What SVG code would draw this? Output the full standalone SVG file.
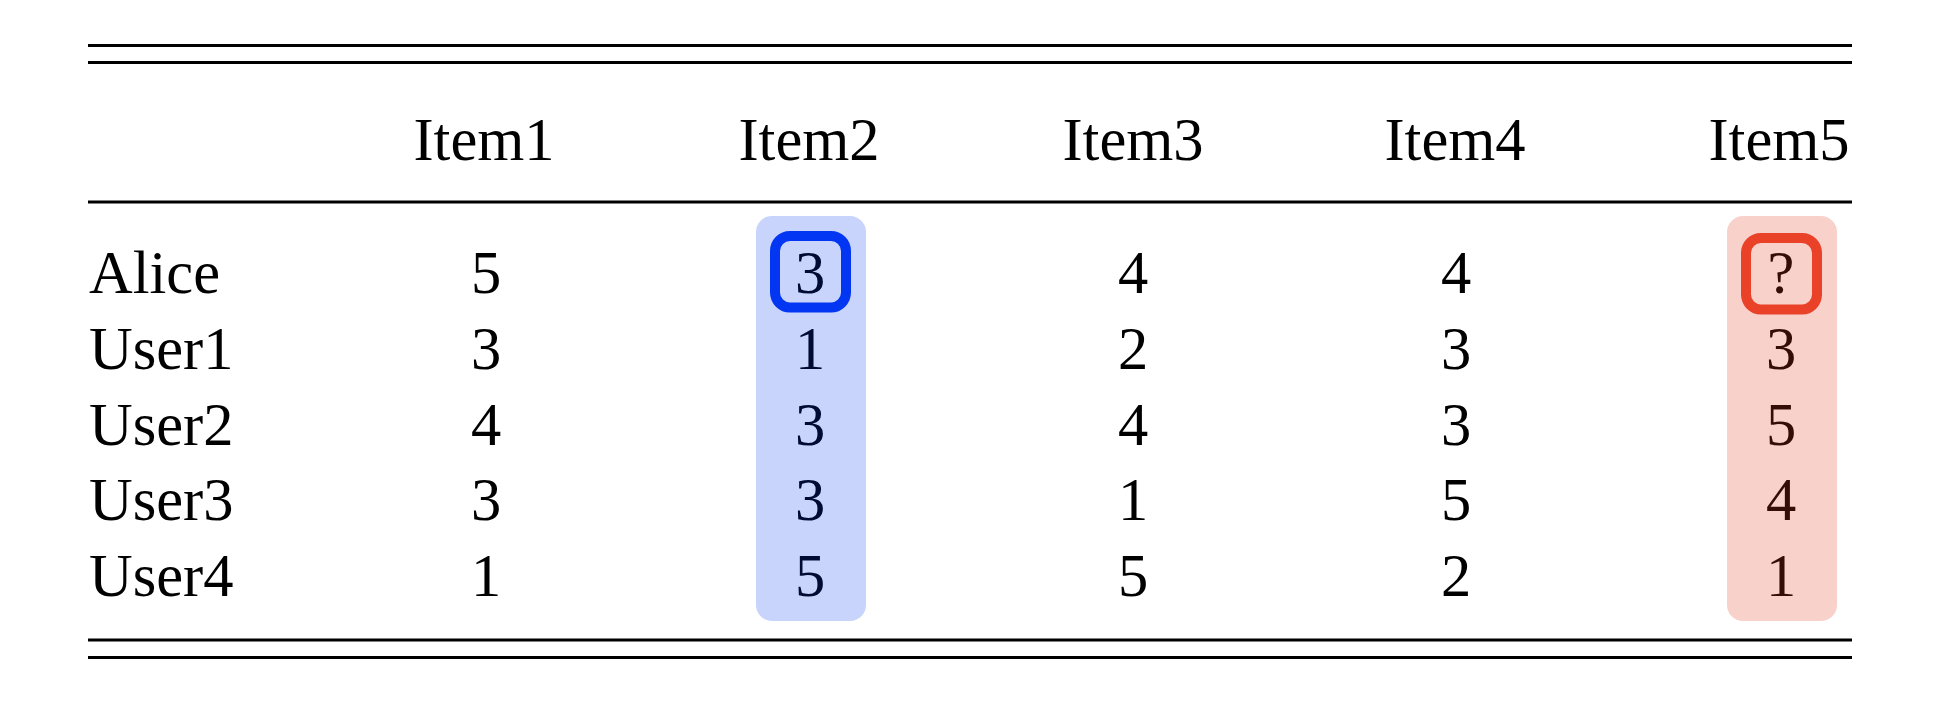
<svg xmlns="http://www.w3.org/2000/svg" width="1938" height="716" viewBox="0 0 1938 716">
<style>
  .t { font-family: "Liberation Serif", "Times New Roman", serif; font-size: 60.5px; fill: #000; text-anchor: middle; }
  .l { text-anchor: start; }
  .rule { stroke: #000; stroke-width: 3; }
</style>
<rect x="0" y="0" width="1938" height="716" fill="#ffffff"/>
<g id="rules">
  <line class="rule" x1="88" y1="45.5" x2="1852" y2="45.5"/>
  <line class="rule" x1="88" y1="62.5" x2="1852" y2="62.5"/>
  <line class="rule" x1="88" y1="202" x2="1852" y2="202"/>
  <line class="rule" x1="88" y1="640" x2="1852" y2="640"/>
  <line class="rule" x1="88" y1="657.5" x2="1852" y2="657.5"/>
</g>
<g id="header">
  <text class="t" x="484" y="160">Item1</text>
  <text class="t" x="809" y="160">Item2</text>
  <text class="t" x="1133" y="160">Item3</text>
  <text class="t" x="1455" y="160">Item4</text>
  <text class="t" x="1779" y="160">Item5</text>
</g>
<g id="row-alice">
  <text class="t l" x="89" y="293">Alice</text>
  <text class="t" x="486" y="293">5</text>
  <text class="t" x="810" y="293">3</text>
  <text class="t" x="1133" y="293">4</text>
  <text class="t" x="1456" y="293">4</text>
  <text class="t" x="1781" y="293">?</text>
</g>
<g id="row-user1">
  <text class="t l" x="89" y="369">User1</text>
  <text class="t" x="486" y="369">3</text>
  <text class="t" x="810" y="369">1</text>
  <text class="t" x="1133" y="369">2</text>
  <text class="t" x="1456" y="369">3</text>
  <text class="t" x="1781" y="369">3</text>
</g>
<g id="row-user2">
  <text class="t l" x="89" y="445">User2</text>
  <text class="t" x="486" y="445">4</text>
  <text class="t" x="810" y="445">3</text>
  <text class="t" x="1133" y="445">4</text>
  <text class="t" x="1456" y="445">3</text>
  <text class="t" x="1781" y="445">5</text>
</g>
<g id="row-user3">
  <text class="t l" x="89" y="520">User3</text>
  <text class="t" x="486" y="520">3</text>
  <text class="t" x="810" y="520">3</text>
  <text class="t" x="1133" y="520">1</text>
  <text class="t" x="1456" y="520">5</text>
  <text class="t" x="1781" y="520">4</text>
</g>
<g id="row-user4">
  <text class="t l" x="89" y="596">User4</text>
  <text class="t" x="486" y="596">1</text>
  <text class="t" x="810" y="596">5</text>
  <text class="t" x="1133" y="596">5</text>
  <text class="t" x="1456" y="596">2</text>
  <text class="t" x="1781" y="596">1</text>
</g>
<g id="highlight-item2">
  <rect x="756" y="216" width="110" height="405" rx="16" fill="#0033F0" fill-opacity="0.21"/>
  <rect x="775" y="236" width="71" height="71.5" rx="15" fill="none" stroke="#0336F2" stroke-width="10"/>
</g>
<g id="highlight-item5">
  <rect x="1727" y="216" width="110" height="405" rx="16" fill="#E23A1E" fill-opacity="0.23"/>
  <rect x="1746" y="238" width="71" height="71.5" rx="15" fill="none" stroke="#EA4129" stroke-width="10"/>
</g>
</svg>
